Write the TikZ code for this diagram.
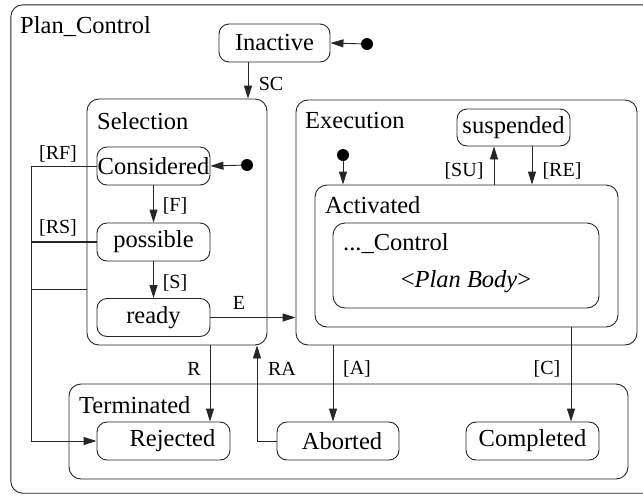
\documentclass[tikz,border=0pt]{standalone}
\usepackage{fontspec}
\setmainfont{Liberation Serif}
\usetikzlibrary{arrows.meta,fit}
\begin{document}
\begin{tikzpicture}[x=1pt,y=-1pt,
  ln/.style={line width=0.9pt, draw=black!85},
  stbox/.style={ln, rounded corners=10pt, inner sep=0pt, font=\fontsize{24.5}{28}\selectfont},
  cont/.style={ln, rounded corners=12pt, inner sep=0pt},
  ttl/.style={anchor=base west, inner sep=0pt, font=\fontsize{24.5}{28}\selectfont},
  lbl/.style={inner sep=0pt, font=\fontsize{20}{24}\selectfont},
  arr/.style={ln, -{Triangle[length=13pt,width=8pt]}},
  initdot/.style={circle, fill=black, inner sep=0pt, minimum size=12pt}]
\path[use as bounding box, fill=white] (0,0) rectangle (643,496);

% containers
\node[inner sep=0pt, fit={(11,5) (660,493)}] (plan) {};
\draw[ln, rounded corners=12pt] (plan.north east) -- (plan.north west) -- (plan.south west) -- (plan.south east);
\node[ttl] (plantitle) at (20,33) {Plan\_Control};
\node[cont, fit={(87,99) (267,345)}] (selection) {};
\node[ttl] (seltitle) at (97,129) {Selection};
\node[cont, fit={(296,100) (637,345)}] (execution) {};
\node[ttl] (exectitle) at (305,128) {Execution};
\node[cont, fit={(315,185) (618,327)}] (activated) {};
\node[ttl] (acttitle) at (325,213) {Activated};
\node[cont, fit={(333,223) (599,308)}] (control) {};
\node[ttl] (ctrltitle) at (343,250) {...\_Control};
\node[inner sep=0pt, anchor=base, font=\fontsize{24.5}{28}\selectfont] (planbody) at (466,287) {<\textit{Plan Body}>};
\node[cont, fit={(69,384) (628,479)}] (terminated) {};
\node[ttl] (termtitle) at (79,413) {Terminated};

% states
\node[stbox, minimum width=111pt, minimum height=38pt] (inactive) at (274.5,43) {Inactive};
\node[stbox, minimum width=113pt, minimum height=38pt] (considered) at (153.5,166) {Considered};
\node[stbox, minimum width=113pt, minimum height=38pt] (possible) at (153.5,242) {possible};
\node[stbox, minimum width=113pt, minimum height=38pt] (ready) at (153.5,317.5) {ready};
\node[stbox, minimum width=113pt, minimum height=37pt] (suspended) at (513.5,127.5) {suspended};
\node[stbox, minimum width=133pt, minimum height=38pt] (rejected) at (163.5,441) {\hspace*{18pt}Rejected};
\node[stbox, minimum width=122pt, minimum height=38pt] (aborted) at (338,441) {\hspace*{8pt}Aborted};
\node[stbox, minimum width=133pt, minimum height=38pt] (completed) at (532.5,441) {Completed};

% initial dots
\node[initdot] (i1) at (367,44) {};
\node[initdot] (i2) at (247,165) {};
\node[initdot] (i3) at (343,155) {};

% helper x positions
\coordinate (scx) at (248,0);
\coordinate (rx) at (210,0);
\coordinate (rax) at (257,0);
\coordinate (ax) at (333,0);
\coordinate (cx) at (571,0);
\coordinate (sux) at (494,0);
\coordinate (rex) at (532,0);
\coordinate (lx) at (31,0);
\coordinate (sy) at (0,289);

% transitions
\draw[arr] (i1) -- (inactive.east);
\draw[arr] (i2) -- (considered.east);
\draw[arr] (i3) -- (activated.north -| i3);
\draw[arr] (inactive.south -| scx) -- (selection.north -| scx);
\draw[arr] (considered.south) -- (possible.north);
\draw[arr] (possible.south) -- (ready.north);
\draw[arr] (ready.east) -- (execution.west |- ready.east);
\draw[arr] (selection.south -| rx) -- (rejected.north -| rx);
\draw[arr] (aborted.west) -| (selection.south -| rax);
\draw[arr] (execution.south -| ax) -- (aborted.north -| ax);
\draw[arr] (activated.south -| cx) -- (completed.north -| cx);
\draw[arr] (activated.north -| sux) -- (suspended.south -| sux);
\draw[arr] (suspended.south -| rex) -- (activated.north -| rex);
\draw[arr] (considered.west) -- (considered.west -| lx) |- (rejected.west);
\draw[ln, line width=2pt] (possible.west) -- (possible.west -| lx);
\draw[ln] (selection.west |- sy) -- (lx |- sy);

% labels
\node[lbl] (lsc) at (271,84) {SC};
\node[lbl] (lf) at (175,206) {[F]};
\node[lbl] (ls) at (175,283) {[S]};
\node[lbl] (le) at (239,303) {E};
\node[lbl] (lr) at (194,369) {R};
\node[lbl] (lra) at (282,369) {RA};
\node[lbl] (la) at (357,369) {[A]};
\node[lbl] (lc) at (547,369) {[C]};
\node[lbl] (lsu) at (464,171) {[SU]};
\node[lbl] (lre) at (562,171) {[RE]};
\node[lbl] (lrf) at (58,154) {[RF]};
\node[lbl] (lrs) at (58,228) {[RS]};
\end{tikzpicture}
\end{document}
